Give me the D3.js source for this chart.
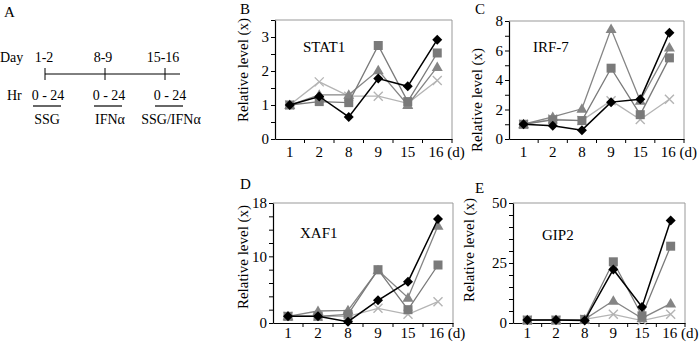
<!DOCTYPE html>
<html>
<head>
<meta charset="utf-8">
<script src="https://cdn.jsdelivr.net/npm/d3@7"></script>
<style>
  body { margin: 0; background: #fff; }
  svg { display: block; }
  svg text { font-family: "Liberation Serif", "Times New Roman", serif !important; fill: #000; }
</style>
</head>
<body>
<svg width="699" height="342"></svg>
<script>
// Days sampled (x categories)
var days = ["1", "2", "8", "9", "15", "16"];

// Series values (black diamond, grey square, grey triangle, light X)
var stat1Diamond  = [1, 1.25, 0.65, 1.78, 1.55, 2.92];
var stat1Square   = [1, 1.1, 1.07, 2.75, 1.1, 2.53];
var stat1Triangle = [1, 1.3, 1.3, 2.02, 1.0, 2.12];
var stat1Cross    = [1, 1.68, 1.26, 1.26, 1.05, 1.72];

var irf7Diamond  = [1, 0.9, 0.6, 2.5, 2.7, 7.2];
var irf7Square   = [1, 1.3, 1.25, 4.8, 1.65, 5.5];
var irf7Triangle = [1, 1.5, 2.05, 7.45, 2.6, 6.2];
var irf7Cross    = [1, 1.35, 1.25, 2.6, 1.32, 2.7];

var xaf1Diamond  = [1, 1.0, 0.2, 3.4, 6.2, 15.6];
var xaf1Square   = [1, 1.0, 1.3, 8.0, 2.0, 8.7];
var xaf1Triangle = [1, 1.8, 1.9, 7.9, 3.8, 14.6];
var xaf1Cross    = [1, 1.0, 1.0, 2.2, 1.3, 3.2];

var gip2Diamond  = [1.2, 1.2, 1.0, 22.3, 6.7, 42.7];
var gip2Square   = [1.2, 1.2, 1.5, 25.5, 3.0, 32];
var gip2Triangle = [1.2, 1.2, 1.5, 9.3, 2.0, 8.1];
var gip2Cross    = [1.2, 1.2, 1.5, 3.6, 1.0, 3.6];

// labelled y ticks per gene
var stat1Ticks = [0, 1, 2, 3];
var irf7Ticks  = [0, 2, 4, 6, 8];
var xaf1Ticks  = [0, 10, 18];
var gip2Ticks  = [0, 25, 50];

// Panel A schedule
var schedDays   = ["1-2", "8-9", "15-16"];
var schedHours  = ["0 - 24", "0 - 24", "0 - 24"];
var schedTreat  = ["SSG", "IFN\u03b1", "SSG/IFN\u03b1"];

var svg = d3.select("svg");

// ---- Panel A ----
svg.append("text").attr("x", 4).attr("y", 17).attr("font-size", "15px").text("A");
svg.append("text").attr("x", 0).attr("y", 62).attr("font-size", "14px").text("Day");
svg.append("text").attr("x", 7).attr("y", 100).attr("font-size", "14px").text("Hr");

var schedX = d3.scalePoint().domain(schedDays).range([45, 165]);
var dayCenters = [44, 103, 163];
var hrCenters = [48, 109, 170];
var treatCenters = [47, 110, 171];

svg.append("line")
    .attr("x1", 45).attr("x2", 180)
    .attr("y1", 74).attr("y2", 74)
    .attr("stroke", "#000").attr("stroke-width", 1);

schedDays.forEach(function (d, i) {
    svg.append("line")
        .attr("x1", schedX(d)).attr("x2", schedX(d))
        .attr("y1", 68).attr("y2", 80)
        .attr("stroke", "#000");
    svg.append("text")
        .attr("x", dayCenters[i]).attr("y", 62)
        .attr("text-anchor", "middle").attr("font-size", "14px")
        .text(d);
    svg.append("text")
        .attr("x", hrCenters[i]).attr("y", 100)
        .attr("text-anchor", "middle").attr("font-size", "14px")
        .text(schedHours[i]);
    svg.append("line")
        .attr("x1", hrCenters[i] - 15).attr("x2", hrCenters[i] + 13)
        .attr("y1", 106).attr("y2", 106)
        .attr("stroke", "#000").attr("stroke-width", 1.2);
    svg.append("text")
        .attr("x", treatCenters[i]).attr("y", 124)
        .attr("text-anchor", "middle").attr("font-size", "14px")
        .text(schedTreat[i]);
});

// ---- Line panels ----
var seriesStyle = [
    { key: "cross",    color: "#b4b4b4" },
    { key: "triangle", color: "#858585" },
    { key: "square",   color: "#7a7a7a" },
    { key: "diamond",  color: "#000000" }
];

var markerPath = {
    cross: "M-4.5,-4.5L4.5,4.5M-4.5,4.5L4.5,-4.5",
    triangle: "M0,-5.5L5.5,4L-5.5,4Z",
    square: "M-4.5,-4.5H4.5V4.5H-4.5Z",
    diamond: "M0,-5L5,0L0,5L-5,0Z"
};

var panels = [
    { letter: "B", gene: "STAT1", max: 3.5, step: 0.5, ticks: stat1Ticks,
      data: { diamond: stat1Diamond, square: stat1Square, triangle: stat1Triangle, cross: stat1Cross },
      left: 275, right: 452, top: 20, bottom: 139,
      letterPos: [240, 14], genePos: [303, 52], ylab: [248, 70], xlabY: 157 },
    { letter: "C", gene: "IRF-7", max: 8, step: 1, ticks: irf7Ticks,
      data: { diamond: irf7Diamond, square: irf7Square, triangle: irf7Triangle, cross: irf7Cross },
      left: 509, right: 684, top: 21, bottom: 139,
      letterPos: [475, 14], genePos: [533, 52], ylab: [482, 100], xlabY: 157 },
    { letter: "D", gene: "XAF1", max: 18, step: 2, ticks: xaf1Ticks,
      data: { diamond: xaf1Diamond, square: xaf1Square, triangle: xaf1Triangle, cross: xaf1Cross },
      left: 273, right: 453, top: 203, bottom: 323,
      letterPos: [240, 189], genePos: [300, 238], ylab: [248, 257], xlabY: 338 },
    { letter: "E", gene: "GIP2", max: 50, step: 5, ticks: gip2Ticks,
      data: { diamond: gip2Diamond, square: gip2Square, triangle: gip2Triangle, cross: gip2Cross },
      left: 513, right: 685, top: 203, bottom: 323,
      letterPos: [475, 193], genePos: [542, 240], ylab: [474, 250], xlabY: 338 }
];

panels.forEach(function (p) {
    var g = svg.append("g");

    var x = d3.scaleBand().domain(days).range([p.left, p.right]);
    var y = d3.scaleLinear().domain([0, p.max]).range([p.bottom, p.top]);

    // grey frame top/right
    g.append("path")
        .attr("d", "M" + p.left + "," + p.top + "H" + p.right + "V" + p.bottom)
        .attr("fill", "none").attr("stroke", "#999").attr("stroke-width", 1);

    // y axis: minor ticks every step, labels on chosen values
    var minor = d3.range(0, p.max + p.step / 2, p.step);
    var yAxis = g.append("g")
        .attr("transform", "translate(" + p.left + ",0)")
        .call(d3.axisLeft(y).tickValues(minor).tickSize(4).tickSizeOuter(0)
            .tickFormat(function (v) { return p.ticks.indexOf(+v.toFixed(3)) >= 0 ? v : ""; }));
    yAxis.attr("font-family", null);
    yAxis.select(".domain").attr("stroke", "#000").attr("stroke-width", 1.2);
    yAxis.selectAll("line").attr("stroke", "#000");
    yAxis.selectAll("text")
        .attr("font-size", "15px").attr("x", -6);

    // x axis: labels centred in bands, ticks between categories
    var xAxis = g.append("g")
        .attr("transform", "translate(0," + p.bottom + ")")
        .call(d3.axisBottom(x).tickSize(0).tickSizeOuter(0)
            .tickFormat(function (d) { return d === "16" ? "16 (d)" : d; }));
    xAxis.attr("font-family", null);
    xAxis.select(".domain").attr("stroke", "#000").attr("stroke-width", 1.2);
    xAxis.selectAll("text")
        .attr("font-size", "15px").attr("dy", null)
        .attr("y", p.xlabY - p.bottom);
    xAxis.selectAll(".tick").filter(function (d) { return d === "16"; })
        .select("text").attr("text-anchor", "start").attr("x", -x.bandwidth() / 2 + 6);
    xAxis.selectAll(".sep")
        .data(days.slice(1))
        .enter().append("line")
        .attr("x1", function (d) { return x(d); })
        .attr("x2", function (d) { return x(d); })
        .attr("y1", 0).attr("y2", 4)
        .attr("stroke", "#000");
    xAxis.append("line")
        .attr("x1", p.right).attr("x2", p.right).attr("y1", 0).attr("y2", 4)
        .attr("stroke", "#000");

    // labels
    g.append("text").attr("x", p.letterPos[0]).attr("y", p.letterPos[1])
        .attr("font-size", "15px").text(p.letter);
    g.append("text").attr("x", p.genePos[0]).attr("y", p.genePos[1])
        .attr("font-size", "15px").text(p.gene);
    g.append("text")
        .attr("transform", "translate(" + p.ylab[0] + "," + p.ylab[1] + ") rotate(-90)")
        .attr("text-anchor", "middle").attr("font-size", "15px")
        .text("Relative level (x)");

    var line = d3.line()
        .x(function (d, i) { return x(days[i]) + x.bandwidth() / 2; })
        .y(function (d) { return y(d); });

    seriesStyle.forEach(function (s) {
        var vals = p.data[s.key];
        g.append("path")
            .datum(vals)
            .attr("fill", "none")
            .attr("stroke", s.color)
            .attr("stroke-width", s.key === "diamond" ? 1.5 : 1.3)
            .attr("d", line);

        var pts = g.selectAll(".pt-" + s.key)
            .data(vals)
            .enter().append("path")
            .attr("class", "pt-" + s.key)
            .attr("transform", function (d, i) {
                return "translate(" + (x(days[i]) + x.bandwidth() / 2) + "," + y(d) + ")";
            })
            .attr("d", markerPath[s.key]);

        if (s.key === "cross") {
            pts.attr("stroke", s.color).attr("stroke-width", 1.4).attr("fill", "none");
        } else {
            pts.attr("fill", s.color);
        }
    });
});

// make sure every label uses the serif face
svg.selectAll("text").style("font-family", "'Liberation Serif', 'Times New Roman', serif");
</script>
</body>
</html>
